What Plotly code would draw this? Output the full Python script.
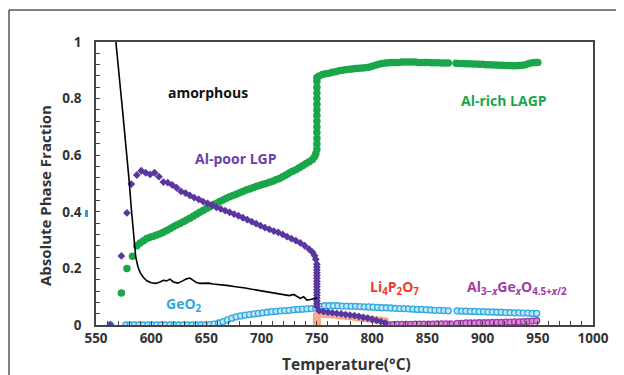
import plotly.graph_objects as go

# ---------------- data ----------------
amorph_T = [568, 570, 572, 574, 576, 578, 580, 582, 584, 586, 588, 590, 593, 596, 600, 604, 608, 611, 614,
            617, 620, 624, 628, 632, 635, 638, 641, 644, 648, 652, 656, 660, 665, 670, 675, 680, 685, 690,
            695, 700, 705, 710, 715, 720, 725, 729, 732, 735, 738, 741, 744, 747, 750]
amorph_f = [1.0, 0.93, 0.84, 0.76, 0.68, 0.6, 0.51, 0.41, 0.31, 0.24, 0.205, 0.185, 0.168, 0.156, 0.149,
            0.147, 0.152, 0.158, 0.156, 0.162, 0.152, 0.148, 0.155, 0.163, 0.166, 0.158, 0.15, 0.147,
            0.147, 0.148, 0.145, 0.144, 0.142, 0.139, 0.136, 0.134, 0.131, 0.127, 0.124, 0.12, 0.117,
            0.113, 0.11, 0.108, 0.104, 0.108, 0.1, 0.094, 0.1, 0.088, 0.09, 0.092, 0.095]

lagp_T = [573, 578, 583, 587, 590, 593, 596, 599, 602, 605, 608, 611, 614, 617, 620, 623, 626, 629, 632,
          635, 638, 641, 644, 647, 650, 653, 656, 659, 662, 665, 668, 671, 674, 677, 680, 683, 686, 689,
          692, 695, 698, 701, 704, 707, 710, 713, 716, 719, 722, 725, 728, 731, 734, 737, 740, 743, 746,
          748, 749, 750, 750, 750, 750, 750, 750, 750, 750, 750, 750, 750, 750, 750, 750, 752, 755, 758,
          761, 764, 767, 770, 773, 776, 779, 782, 785, 788, 791, 794, 797, 800, 803, 806, 809, 812, 815,
          818, 821, 824, 827, 830, 833, 836, 839, 842, 845, 848, 851, 854, 857, 860, 863, 866, 869, 876,
          879, 882, 885, 888, 891, 894, 897, 900, 903, 906, 909, 912, 915, 918, 921, 924, 927, 930, 933,
          936, 939, 942, 945, 948, 950]
lagp_f = [0.113, 0.2, 0.243, 0.28, 0.29, 0.298, 0.306, 0.31, 0.314, 0.318, 0.322, 0.328, 0.334, 0.34,
          0.347, 0.353, 0.359, 0.365, 0.371, 0.377, 0.384, 0.391, 0.398, 0.405, 0.412, 0.418, 0.424, 0.43,
          0.436, 0.442, 0.448, 0.453, 0.458, 0.462, 0.467, 0.472, 0.477, 0.481, 0.485, 0.489, 0.493, 0.497,
          0.5, 0.504, 0.508, 0.513, 0.518, 0.524, 0.53, 0.537, 0.543, 0.549, 0.556, 0.563, 0.57, 0.577,
          0.585, 0.595, 0.605, 0.62, 0.64, 0.66, 0.68, 0.7, 0.72, 0.74, 0.76, 0.78, 0.8, 0.82, 0.84, 0.86,
          0.875, 0.88, 0.885, 0.888, 0.89, 0.893, 0.895, 0.898, 0.9, 0.902, 0.904, 0.905, 0.906, 0.907,
          0.908, 0.909, 0.911, 0.914, 0.918, 0.921, 0.924, 0.926, 0.927, 0.928, 0.928, 0.928, 0.929, 0.929,
          0.929, 0.929, 0.929, 0.928, 0.928, 0.928, 0.928, 0.927, 0.927, 0.927, 0.926, 0.926, 0.926, 0.925,
          0.924, 0.924, 0.923, 0.923, 0.922, 0.922, 0.921, 0.921, 0.92, 0.92, 0.919, 0.919, 0.918, 0.918,
          0.917, 0.917, 0.916, 0.916, 0.917, 0.918, 0.92, 0.924, 0.927, 0.928, 0.928]

lgp_T = [563, 573, 578, 582, 587, 591, 595, 599, 603, 607, 611, 615, 619, 623, 627, 631, 635, 639, 643,
         647, 651, 655, 659, 663, 667, 671, 675, 679, 683, 687, 691, 695, 699, 703, 707, 711, 715, 719,
         723, 727, 731, 735, 739, 743, 746, 748, 749, 750, 750, 750, 750, 750, 750, 750, 750, 750, 750,
         750, 750, 750, 750, 750, 750, 752, 756, 760, 764, 768, 772, 776, 780, 784, 788, 792, 796, 800,
         804, 808, 812]
lgp_f = [0.0, 0.244, 0.396, 0.498, 0.53, 0.545, 0.538, 0.532, 0.538, 0.524, 0.505, 0.503, 0.495, 0.485,
         0.472, 0.466, 0.458, 0.45, 0.444, 0.436, 0.43, 0.424, 0.416, 0.41, 0.404, 0.398, 0.392, 0.386,
         0.379, 0.372, 0.365, 0.358, 0.351, 0.344, 0.338, 0.332, 0.327, 0.32, 0.312, 0.305, 0.298, 0.29,
         0.28, 0.268, 0.257, 0.245, 0.232, 0.215, 0.205, 0.195, 0.185, 0.175, 0.165, 0.155, 0.145, 0.135,
         0.125, 0.115, 0.105, 0.095, 0.085, 0.075, 0.065, 0.05, 0.047, 0.045, 0.043, 0.041, 0.039, 0.037,
         0.035, 0.033, 0.03, 0.027, 0.024, 0.02, 0.016, 0.012, 0.007]

geo2_T = [563, 577, 581, 585, 589, 593, 597, 601, 605, 609, 613, 617, 621, 625, 629, 633, 637, 641, 645,
          649, 653, 657, 661, 665, 669, 673, 677, 681, 685, 689, 693, 697, 701, 705, 709, 713, 717, 721,
          725, 729, 733, 737, 741, 745, 749, 753, 757, 761, 765, 769, 773, 777, 781, 785, 789, 793, 797,
          801, 805, 809, 813, 817, 821, 825, 829, 833, 837, 841, 845, 849, 853, 857, 861, 865, 869, 877,
          881, 885, 889, 893, 897, 901, 905, 909, 913, 917, 921, 925, 929, 933, 937, 941, 945, 949]
geo2_f = [0.0, 0.0, 0.0, 0.0, 0.0, 0.0, 0.0, 0.0, 0.0, 0.0, 0.0, 0.0, 0.0, 0.0, 0.0, 0.0, 0.0, 0.0, 0.0,
          0.0, 0.001, 0.003, 0.007, 0.012, 0.018, 0.024, 0.029, 0.032, 0.035, 0.037, 0.039, 0.041, 0.043,
          0.045, 0.047, 0.048, 0.05, 0.051, 0.052, 0.054, 0.055, 0.056, 0.057, 0.058, 0.06, 0.066, 0.068,
          0.068, 0.068, 0.068, 0.067, 0.067, 0.066, 0.066, 0.065, 0.064, 0.064, 0.063, 0.062, 0.061, 0.061,
          0.06, 0.059, 0.058, 0.058, 0.057, 0.056, 0.055, 0.055, 0.054, 0.053, 0.052, 0.052, 0.051, 0.05,
          0.05, 0.049, 0.049, 0.048, 0.048, 0.047, 0.047, 0.046, 0.046, 0.045, 0.045, 0.044, 0.044, 0.043,
          0.043, 0.042, 0.042, 0.041, 0.041]

lpo_T = [750, 750, 750, 750, 750, 752, 756, 760, 764, 768, 772, 776, 780, 784, 788, 792, 796, 800, 804,
         808, 812]
lpo_f = [0.005, 0.012, 0.02, 0.028, 0.035, 0.04, 0.038, 0.037, 0.036, 0.035, 0.033, 0.032, 0.03, 0.028,
         0.026, 0.024, 0.022, 0.02, 0.018, 0.016, 0.014]

ago_T = [815, 819, 823, 827, 831, 835, 839, 843, 847, 851, 855, 859, 863, 867, 871, 877, 881, 885, 889,
         893, 897, 901, 905, 909, 913, 917, 921, 925, 929, 933, 937, 941, 945, 949]
ago_f = [0.001, 0.001, 0.002, 0.002, 0.002, 0.002, 0.003, 0.003, 0.003, 0.003, 0.003, 0.004, 0.004, 0.004,
         0.004, 0.006, 0.006, 0.007, 0.007, 0.007, 0.008, 0.008, 0.008, 0.009, 0.009, 0.009, 0.01, 0.01,
         0.011, 0.011, 0.012, 0.013, 0.014, 0.015]

x_ticks = [550, 600, 650, 700, 750, 800, 850, 900, 950, 1000]
y_ticks = [0, 0.2, 0.4, 0.6, 0.8, 1]
y_ticklabels = ["0", "0.2", "0.4", "0.6", "0.8", "1"]

# ---------------- figure ----------------
FONT = "Open Sans"
OFF = 8  # page body margin offset
W, H = 624 - OFF, 375 - OFF
PL, PT, PR, PB = 96, 42, 593, 325  # plot box in page pixels
L, T = PL - OFF, PT - OFF
R, B = W - (PR - OFF), H - (PB - OFF)
pw, ph = PR - PL, PB - PT


def px(xp):
    return (xp - PL) / pw


def py(yp):
    return (PB - yp) / ph


fig = go.Figure()

fig.add_trace(go.Scatter(x=geo2_T, y=geo2_f, mode="markers",
                         marker=dict(symbol="circle", size=6, color="#bfe5f7",
                                     line=dict(color="#2fa9e0", width=1.3))))
fig.add_trace(go.Scatter(x=ago_T, y=ago_f, mode="markers",
                         marker=dict(symbol="circle", size=6, color="#d58ad6",
                                     line=dict(color="#a23aa8", width=1.3))))
fig.add_trace(go.Scatter(x=lpo_T, y=lpo_f, mode="markers",
                         marker=dict(symbol="circle", size=7, color="#f9b99a",
                                     line=dict(color="#f4a07a", width=1))))
fig.add_trace(go.Scatter(x=lagp_T, y=lagp_f, mode="markers",
                         marker=dict(symbol="circle", size=7.5, color="#1aa64a",
                                     line=dict(width=0))))
fig.add_trace(go.Scatter(x=lgp_T, y=lgp_f, mode="markers",
                         marker=dict(symbol="diamond", size=6, color="#5a36a0",
                                     line=dict(width=0))))
fig.add_trace(go.Scatter(x=amorph_T, y=amorph_f, mode="lines",
                         line=dict(color="#000000", width=1.6)))

labels = [
    (651, 0.823, "amorphous", "#111111"),
    (677, 0.587, "Al-poor LGP", "#6a40a6"),
    (919, 0.795, "Al-rich LAGP", "#1aa64a"),
    (630, 0.074, "GeO<sub>2</sub>", "#2fa9e0"),
    (820, 0.134, "Li<sub>4</sub>P<sub>2</sub>O<sub>7</sub>", "#ee3a2e"),
    (931, 0.134, "Al<sub>3−<i>x</i></sub>Ge<sub><i>x</i></sub>O<sub>4.5+<i>x</i>/2</sub>", "#a23aa8"),
]
for x, y, t, c in labels:
    fig.add_annotation(x=x, y=y, text=t, showarrow=False, xref="x", yref="y",
                       xanchor="center", yanchor="middle",
                       font=dict(family=FONT, size=14, color=c, weight="bold"))

# axis titles
fig.add_annotation(x=px(45), y=py(196), xref="paper", yref="paper", text="<b>Absolute Phase Fraction</b>",
                   textangle=-90, showarrow=False, xanchor="center", yanchor="middle",
                   font=dict(family=FONT, size=15, color="#333333"))
fig.add_annotation(x=px(346), y=py(364), xref="paper", yref="paper", text="<b>Temperature(°C)</b>",
                   showarrow=False, xanchor="center", yanchor="middle",
                   font=dict(family=FONT, size=15.5, color="#333333"))

shapes = [
    # outer frame lines (left and top)
    dict(type="line", xref="paper", yref="paper", x0=px(9), x1=px(640), y0=py(10), y1=py(10),
         line=dict(color="#555555", width=1.5)),
    dict(type="line", xref="paper", yref="paper", x0=px(9), x1=px(9), y0=py(10), y1=py(400),
         line=dict(color="#555555", width=1.5)),
    # small blue mark near 0.4
    dict(type="rect", xref="paper", yref="paper", x0=px(85), x1=px(88), y0=py(210), y1=py(217),
         fillcolor="#2a9fd6", line=dict(width=0)),
]

fig.update_layout(
    width=W, height=H,
    margin=dict(l=L, r=R, t=T, b=B),
    paper_bgcolor="white", plot_bgcolor="white",
    showlegend=False,
    shapes=shapes,
    font=dict(family=FONT, size=13, color="#333333"),
    xaxis=dict(range=[550, 1000], tickvals=x_ticks, ticks="inside", ticklen=4, tickwidth=1.2,
               tickcolor="#444444", showline=True, linecolor="#444444", linewidth=1.5, mirror=True,
               showgrid=False, zeroline=False,
               tickfont=dict(family=FONT, size=13.5, color="#333333", weight="bold"),
               minor=dict(dtick=10, ticks="inside", ticklen=4, tickcolor="#444444", showgrid=False)),
    yaxis=dict(range=[0, 1], tickvals=y_ticks, ticktext=y_ticklabels, ticks="inside", ticklen=4,
               tickwidth=1.2, tickcolor="#444444", showline=True, linecolor="#444444", linewidth=1.5,
               mirror=True, showgrid=False, zeroline=False, ticklabelstandoff=10,
               tickfont=dict(family=FONT, size=13.5, color="#333333", weight="bold"),
               minor=dict(dtick=0.04, ticks="inside", ticklen=4, tickcolor="#444444", showgrid=False)),
)

fig.write_html("out.html")
